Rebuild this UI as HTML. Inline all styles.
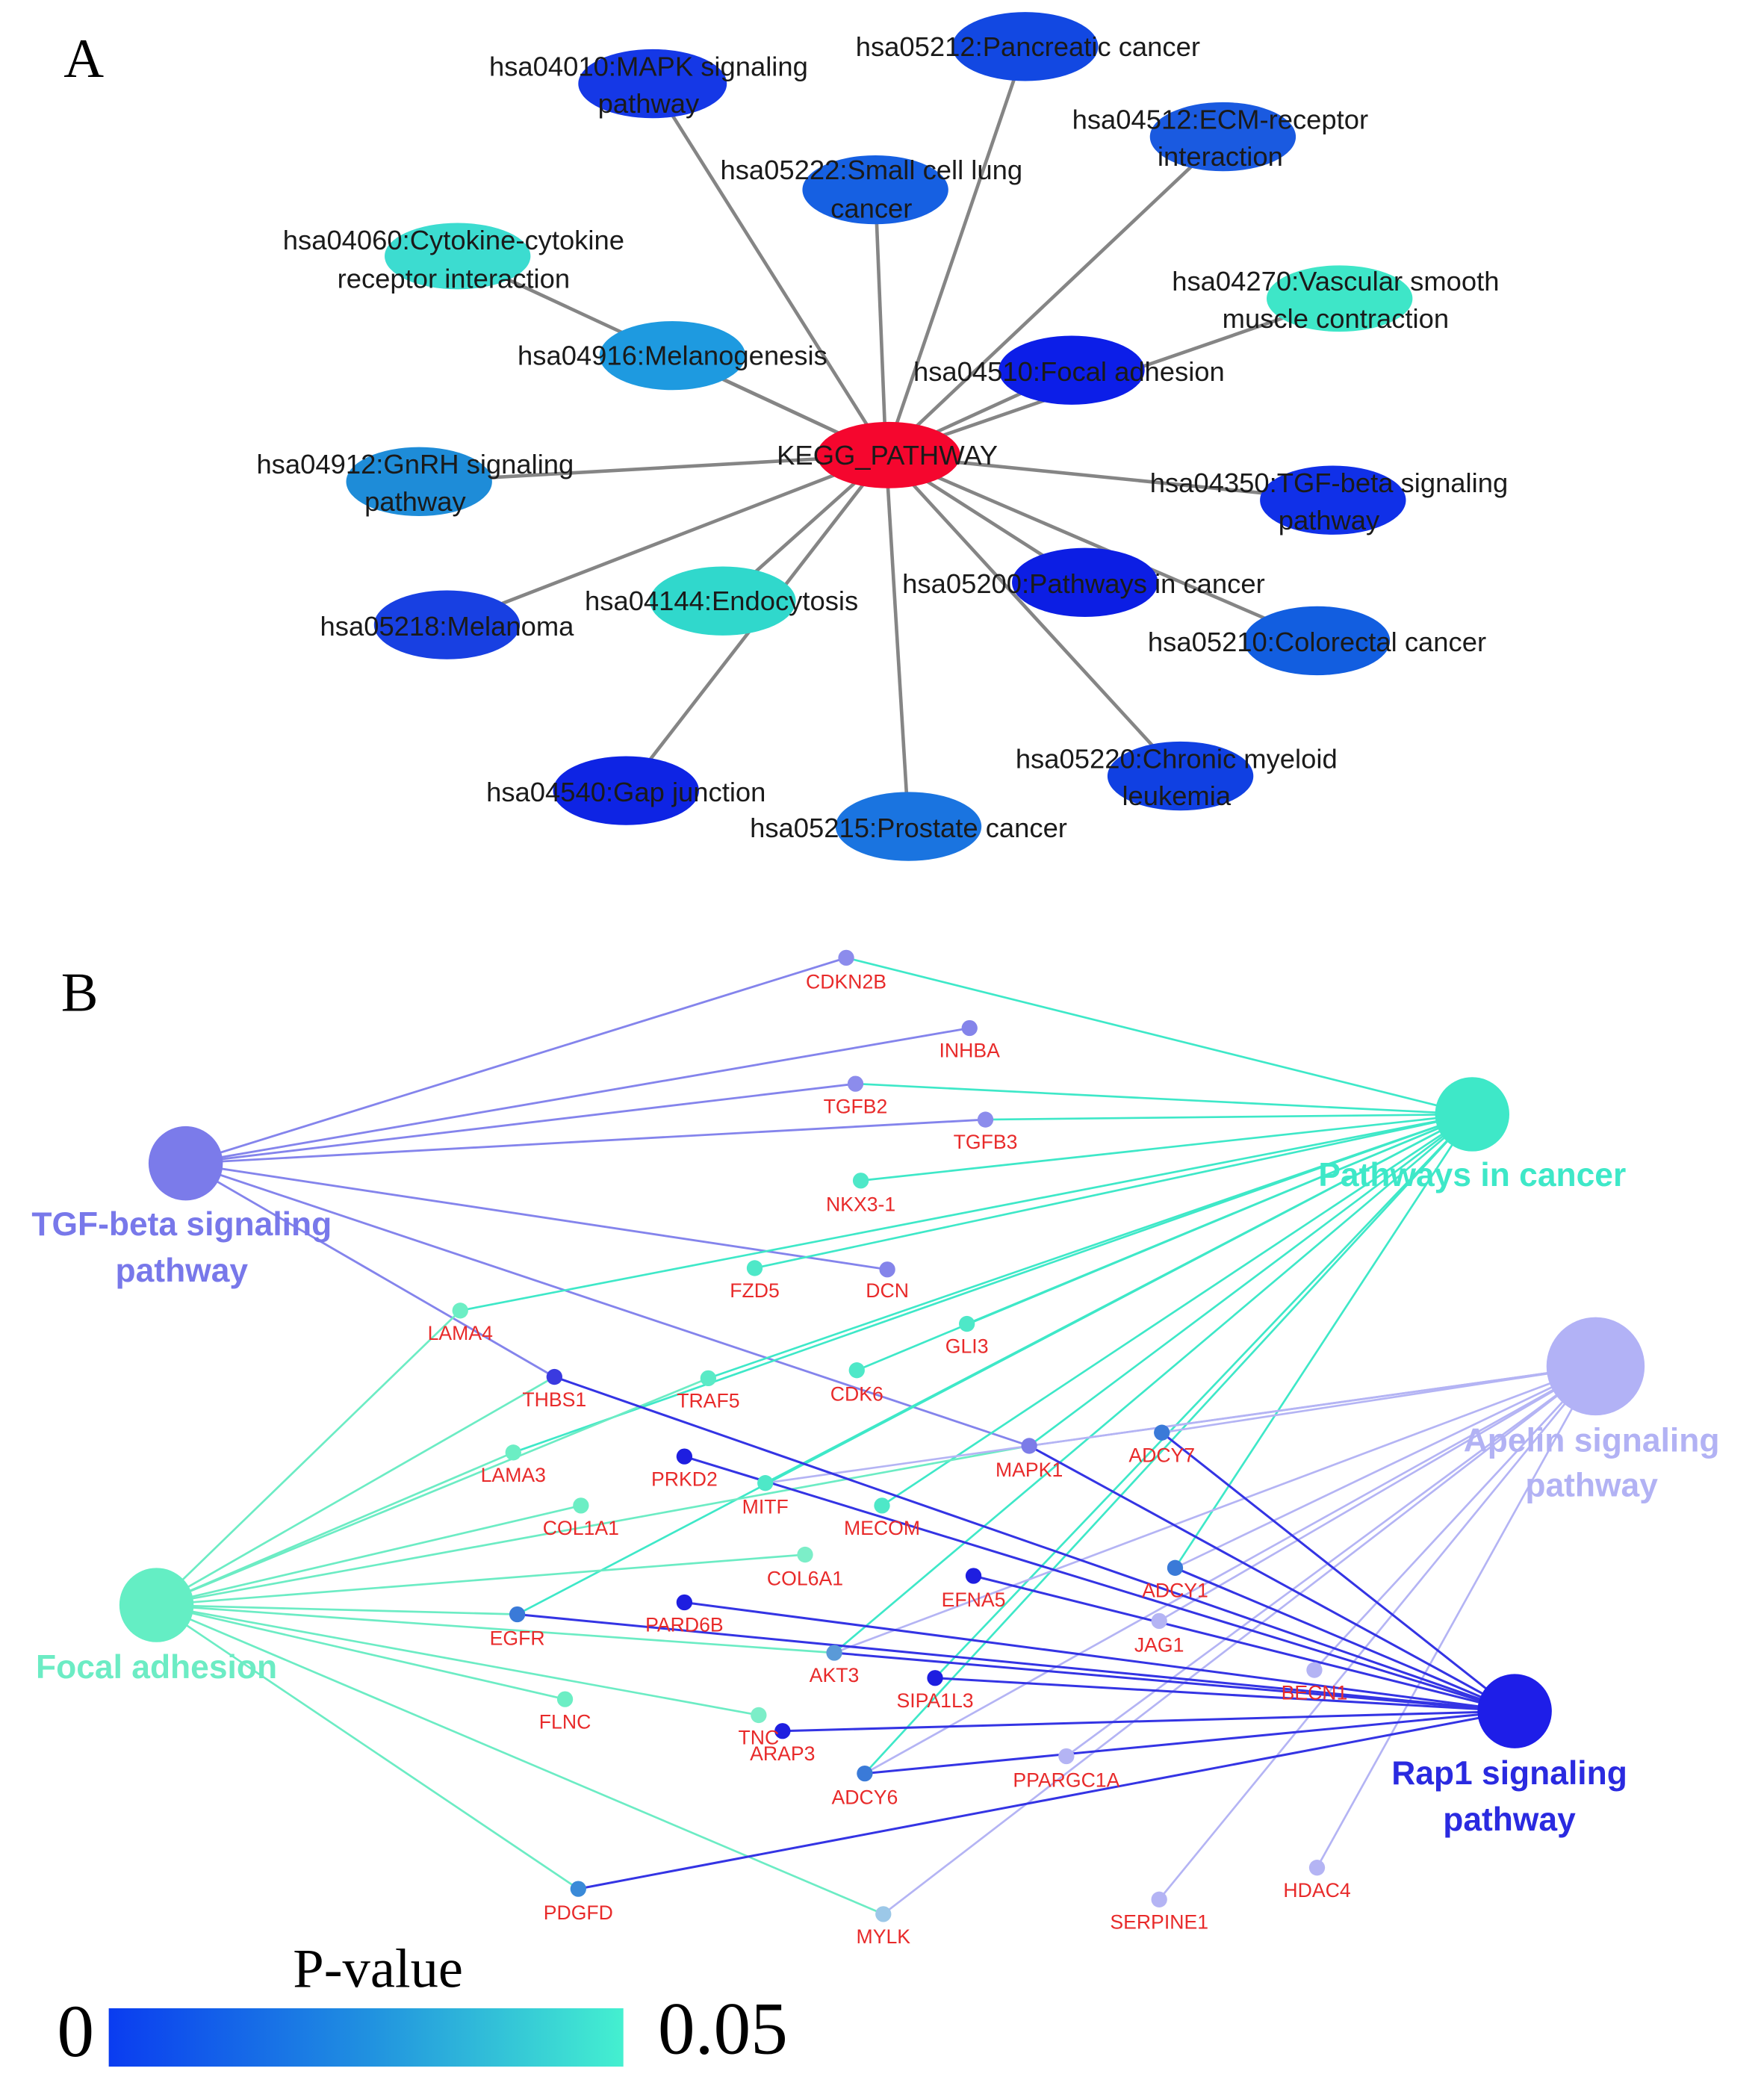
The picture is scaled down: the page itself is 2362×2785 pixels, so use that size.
<!DOCTYPE html>
<html><head><meta charset="utf-8">
<style>
html,body{margin:0;padding:0;background:#fff;}
svg{display:block;}
.a{font-family:"Liberation Sans",sans-serif;font-size:20.5px;fill:#1a1a1a;text-anchor:middle;dominant-baseline:central;}
.g{font-family:"Liberation Sans",sans-serif;font-size:15px;fill:#e82a2a;text-anchor:middle;dominant-baseline:central;}
.h{font-family:"Liberation Sans",sans-serif;font-size:25px;font-weight:bold;text-anchor:middle;dominant-baseline:central;}
.s{font-family:"Liberation Serif",serif;fill:#000;}
</style></head><body>
<svg width="2362" height="2785" viewBox="0 0 1330 1568" xmlns="http://www.w3.org/2000/svg">
<rect width="1330" height="1568" fill="#fff"/>
<text class="s" x="48" y="58" font-size="42">A</text>
<text class="s" x="46" y="762" font-size="42">B</text>
<g stroke="#858585" stroke-width="2.6">
<line x1="668" y1="343" x2="492" y2="63"/>
<line x1="668" y1="343" x2="773" y2="35"/>
<line x1="668" y1="343" x2="922" y2="103"/>
<line x1="668" y1="343" x2="660" y2="143"/>
<line x1="668" y1="343" x2="345" y2="193"/>
<line x1="668" y1="343" x2="1010" y2="225"/>
<line x1="668" y1="343" x2="507" y2="268"/>
<line x1="668" y1="343" x2="808" y2="279"/>
<line x1="668" y1="343" x2="316" y2="363"/>
<line x1="668" y1="343" x2="1005" y2="377"/>
<line x1="668" y1="343" x2="818" y2="439"/>
<line x1="668" y1="343" x2="545" y2="453"/>
<line x1="668" y1="343" x2="337" y2="471"/>
<line x1="668" y1="343" x2="993" y2="483"/>
<line x1="668" y1="343" x2="472" y2="596"/>
<line x1="668" y1="343" x2="890" y2="585"/>
<line x1="668" y1="343" x2="685" y2="623"/>
</g>
<g>
<ellipse cx="492" cy="63" rx="56" ry="26" fill="#1538e6"/>
<ellipse cx="773" cy="35" rx="55" ry="26" fill="#1248e2"/>
<ellipse cx="922" cy="103" rx="55" ry="26" fill="#1a5ae0"/>
<ellipse cx="660" cy="143" rx="55" ry="26" fill="#1660e2"/>
<ellipse cx="345" cy="193" rx="55" ry="25" fill="#3cdcd0"/>
<ellipse cx="1010" cy="225" rx="55" ry="25" fill="#3ee6c8"/>
<ellipse cx="507" cy="268" rx="55" ry="26" fill="#1e9ae0"/>
<ellipse cx="808" cy="279" rx="55" ry="26" fill="#0c1ee8"/>
<ellipse cx="316" cy="363" rx="55" ry="26" fill="#1e8cd8"/>
<ellipse cx="1005" cy="377" rx="55" ry="26" fill="#1030e8"/>
<ellipse cx="818" cy="439" rx="55" ry="26" fill="#0c1ee4"/>
<ellipse cx="545" cy="453" rx="55" ry="26" fill="#30d8cc"/>
<ellipse cx="337" cy="471" rx="55" ry="26" fill="#1840e2"/>
<ellipse cx="993" cy="483" rx="55" ry="26" fill="#125ee0"/>
<ellipse cx="472" cy="596" rx="55" ry="26" fill="#0e24e4"/>
<ellipse cx="890" cy="585" rx="55" ry="26" fill="#1040e2"/>
<ellipse cx="685" cy="623" rx="55" ry="26" fill="#1a74e0"/>
<ellipse cx="670" cy="343" rx="54" ry="25" fill="#f5062e"/>
</g>
<g class="a">
<text x="489" y="50">hsa04010:MAPK signaling</text><text x="489" y="78">pathway</text>
<text x="775" y="35">hsa05212:Pancreatic cancer</text>
<text x="920" y="90">hsa04512:ECM-receptor</text><text x="920" y="118">interaction</text>
<text x="657" y="128">hsa05222:Small cell lung</text><text x="657" y="157">cancer</text>
<text x="342" y="181">hsa04060:Cytokine-cytokine</text><text x="342" y="210">receptor interaction</text>
<text x="1007" y="212">hsa04270:Vascular smooth</text><text x="1007" y="240">muscle contraction</text>
<text x="507" y="268">hsa04916:Melanogenesis</text>
<text x="806" y="280">hsa04510:Focal adhesion</text>
<text x="313" y="350">hsa04912:GnRH signaling</text><text x="313" y="378">pathway</text>
<text x="669" y="343">KEGG_PATHWAY</text>
<text x="1002" y="364">hsa04350:TGF-beta signaling</text><text x="1002" y="392">pathway</text>
<text x="817" y="440">hsa05200:Pathways in cancer</text>
<text x="544" y="453">hsa04144:Endocytosis</text>
<text x="337" y="472">hsa05218:Melanoma</text>
<text x="993" y="484">hsa05210:Colorectal cancer</text>
<text x="887" y="572">hsa05220:Chronic myeloid</text><text x="887" y="600">leukemia</text>
<text x="472" y="597">hsa04540:Gap junction</text>
<text x="685" y="624">hsa05215:Prostate cancer</text>
</g>
<g stroke="#8484ec" stroke-width="1.6">
<line x1="140" y1="877" x2="638" y2="722"/>
<line x1="140" y1="877" x2="731" y2="775"/>
<line x1="140" y1="877" x2="645" y2="817"/>
<line x1="140" y1="877" x2="743" y2="844"/>
<line x1="140" y1="877" x2="669" y2="957"/>
<line x1="140" y1="877" x2="418" y2="1038"/>
<line x1="140" y1="877" x2="776" y2="1090"/>
</g>
<g stroke="#3ee8c8" stroke-width="1.5">
<line x1="1110" y1="840" x2="638" y2="722"/>
<line x1="1110" y1="840" x2="645" y2="817"/>
<line x1="1110" y1="840" x2="743" y2="844"/>
<line x1="1110" y1="840" x2="649" y2="890"/>
<line x1="1110" y1="840" x2="569" y2="956"/>
<line x1="1110" y1="840" x2="347" y2="988"/>
<line x1="1110" y1="840" x2="729" y2="998"/>
<line x1="1110" y1="840" x2="534" y2="1039"/>
<line x1="1110" y1="840" x2="646" y2="1033"/>
<line x1="1110" y1="840" x2="387" y2="1095"/>
<line x1="1110" y1="840" x2="577" y2="1118"/>
<line x1="1110" y1="840" x2="665" y2="1135"/>
<line x1="1110" y1="840" x2="390" y2="1217"/>
<line x1="1110" y1="840" x2="629" y2="1246"/>
<line x1="1110" y1="840" x2="705" y2="1265"/>
<line x1="1110" y1="840" x2="652" y2="1337"/>
<line x1="1110" y1="840" x2="886" y2="1182"/>
<line x1="1110" y1="840" x2="776" y2="1090"/>
</g>
<g stroke="#6cecc4" stroke-width="1.5">
<line x1="118" y1="1210" x2="347" y2="988"/>
<line x1="118" y1="1210" x2="418" y2="1038"/>
<line x1="118" y1="1210" x2="534" y2="1039"/>
<line x1="118" y1="1210" x2="387" y2="1095"/>
<line x1="118" y1="1210" x2="438" y2="1135"/>
<line x1="118" y1="1210" x2="776" y2="1090"/>
<line x1="118" y1="1210" x2="607" y2="1172"/>
<line x1="118" y1="1210" x2="390" y2="1217"/>
<line x1="118" y1="1210" x2="629" y2="1246"/>
<line x1="118" y1="1210" x2="426" y2="1281"/>
<line x1="118" y1="1210" x2="572" y2="1293"/>
<line x1="118" y1="1210" x2="436" y2="1424"/>
<line x1="118" y1="1210" x2="666" y2="1443"/>
</g>
<g stroke="#b4b4f4" stroke-width="1.5">
<line x1="1203" y1="1030" x2="776" y2="1090"/>
<line x1="1203" y1="1030" x2="876" y2="1080"/>
<line x1="1203" y1="1030" x2="886" y2="1182"/>
<line x1="1203" y1="1030" x2="874" y2="1222"/>
<line x1="1203" y1="1030" x2="991" y2="1259"/>
<line x1="1203" y1="1030" x2="804" y2="1324"/>
<line x1="1203" y1="1030" x2="874" y2="1432"/>
<line x1="1203" y1="1030" x2="993" y2="1408"/>
<line x1="1203" y1="1030" x2="666" y2="1443"/>
<line x1="1203" y1="1030" x2="652" y2="1337"/>
<line x1="1203" y1="1030" x2="629" y2="1246"/>
<line x1="1203" y1="1030" x2="577" y2="1118"/>
</g>
<g stroke="#3434e4" stroke-width="1.7">
<line x1="1142" y1="1290" x2="418" y2="1038"/>
<line x1="1142" y1="1290" x2="516" y2="1098"/>
<line x1="1142" y1="1290" x2="776" y2="1090"/>
<line x1="1142" y1="1290" x2="876" y2="1080"/>
<line x1="1142" y1="1290" x2="886" y2="1182"/>
<line x1="1142" y1="1290" x2="734" y2="1188"/>
<line x1="1142" y1="1290" x2="390" y2="1217"/>
<line x1="1142" y1="1290" x2="516" y2="1208"/>
<line x1="1142" y1="1290" x2="629" y2="1246"/>
<line x1="1142" y1="1290" x2="705" y2="1265"/>
<line x1="1142" y1="1290" x2="590" y2="1305"/>
<line x1="1142" y1="1290" x2="652" y2="1337"/>
<line x1="1142" y1="1290" x2="436" y2="1424"/>
</g>
<circle cx="140" cy="877" r="28" fill="#7b7bea"/>
<circle cx="1110" cy="840" r="28" fill="#3ee8c8"/>
<circle cx="1203" cy="1030" r="37" fill="#b2b2f6"/>
<circle cx="118" cy="1210" r="28" fill="#64eec4"/>
<circle cx="1142" cy="1290" r="28" fill="#1e1ee8"/>
<g class="h">
<text x="137" y="923" fill="#7878ea">TGF-beta signaling</text><text x="137" y="958" fill="#7878ea">pathway</text>
<text x="1110" y="886" fill="#3ee8c8">Pathways in cancer</text>
<text x="1200" y="1086" fill="#b2b2f4">Apelin signaling</text><text x="1200" y="1120" fill="#b2b2f4">pathway</text>
<text x="118" y="1257" fill="#6cecc4">Focal adhesion</text>
<text x="1138" y="1337" fill="#2a2ae0">Rap1 signaling</text><text x="1138" y="1372" fill="#2a2ae0">pathway</text>
</g>
<g>
<circle cx="638" cy="722" r="6" fill="#8c8cec"/>
<circle cx="731" cy="775" r="6" fill="#8484ea"/>
<circle cx="645" cy="817" r="6" fill="#8c8cec"/>
<circle cx="743" cy="844" r="6" fill="#8c8cec"/>
<circle cx="649" cy="890" r="6" fill="#4ee8c8"/>
<circle cx="569" cy="956" r="6" fill="#4ee8c8"/>
<circle cx="669" cy="957" r="6" fill="#8484ea"/>
<circle cx="347" cy="988" r="6" fill="#6ceec4"/>
<circle cx="729" cy="998" r="6" fill="#4ee8c8"/>
<circle cx="418" cy="1038" r="6" fill="#3a3ae0"/>
<circle cx="534" cy="1039" r="6" fill="#5aeac6"/>
<circle cx="646" cy="1033" r="6" fill="#4ee8c8"/>
<circle cx="387" cy="1095" r="6" fill="#6ceec4"/>
<circle cx="516" cy="1098" r="6" fill="#1e1ee0"/>
<circle cx="577" cy="1118" r="6" fill="#4ee8c8"/>
<circle cx="776" cy="1090" r="6" fill="#7c7ce8"/>
<circle cx="876" cy="1080" r="6" fill="#3a7ad8"/>
<circle cx="438" cy="1135" r="6" fill="#6ceec4"/>
<circle cx="665" cy="1135" r="6" fill="#4ee8c8"/>
<circle cx="607" cy="1172" r="6" fill="#7ceec8"/>
<circle cx="734" cy="1188" r="6" fill="#1e1ee0"/>
<circle cx="886" cy="1182" r="6" fill="#3a7ad8"/>
<circle cx="390" cy="1217" r="6" fill="#3a7ad8"/>
<circle cx="516" cy="1208" r="6" fill="#1e1ee0"/>
<circle cx="874" cy="1222" r="6" fill="#b4b4f4"/>
<circle cx="629" cy="1246" r="6" fill="#5a9ad8"/>
<circle cx="705" cy="1265" r="6" fill="#1e1ee0"/>
<circle cx="991" cy="1259" r="6" fill="#b4b4f4"/>
<circle cx="426" cy="1281" r="6" fill="#6ceec4"/>
<circle cx="572" cy="1293" r="6" fill="#7ceec8"/>
<circle cx="590" cy="1305" r="6" fill="#1e1ee0"/>
<circle cx="652" cy="1337" r="6" fill="#3a7ad8"/>
<circle cx="804" cy="1324" r="6" fill="#b4b4f4"/>
<circle cx="436" cy="1424" r="6" fill="#3a8ad8"/>
<circle cx="666" cy="1443" r="6" fill="#9cc8e8"/>
<circle cx="874" cy="1432" r="6" fill="#b4b4f4"/>
<circle cx="993" cy="1408" r="6" fill="#b4b4f4"/>
</g>
<g class="g">
<text x="638" y="740">CDKN2B</text>
<text x="731" y="792">INHBA</text>
<text x="645" y="834">TGFB2</text>
<text x="743" y="861">TGFB3</text>
<text x="649" y="908">NKX3-1</text>
<text x="569" y="973">FZD5</text>
<text x="669" y="973">DCN</text>
<text x="347" y="1005">LAMA4</text>
<text x="729" y="1015">GLI3</text>
<text x="418" y="1055">THBS1</text>
<text x="534" y="1056">TRAF5</text>
<text x="646" y="1051">CDK6</text>
<text x="387" y="1112">LAMA3</text>
<text x="516" y="1115">PRKD2</text>
<text x="577" y="1136">MITF</text>
<text x="776" y="1108">MAPK1</text>
<text x="876" y="1097">ADCY7</text>
<text x="438" y="1152">COL1A1</text>
<text x="665" y="1152">MECOM</text>
<text x="607" y="1190">COL6A1</text>
<text x="734" y="1206">EFNA5</text>
<text x="886" y="1199">ADCY1</text>
<text x="390" y="1235">EGFR</text>
<text x="516" y="1225">PARD6B</text>
<text x="874" y="1240">JAG1</text>
<text x="629" y="1263">AKT3</text>
<text x="705" y="1282">SIPA1L3</text>
<text x="991" y="1276">BECN1</text>
<text x="426" y="1298">FLNC</text>
<text x="572" y="1310">TNC</text>
<text x="590" y="1322">ARAP3</text>
<text x="652" y="1355">ADCY6</text>
<text x="804" y="1342">PPARGC1A</text>
<text x="436" y="1442">PDGFD</text>
<text x="666" y="1460">MYLK</text>
<text x="874" y="1449">SERPINE1</text>
<text x="993" y="1425">HDAC4</text>
</g>
<defs><linearGradient id="pg" x1="0" x2="1" y1="0" y2="0">
<stop offset="0" stop-color="#0a3cf0"/><stop offset="0.5" stop-color="#2090e0"/><stop offset="1" stop-color="#44f0d0"/>
</linearGradient></defs>
<rect x="82" y="1514" width="388" height="44" fill="url(#pg)"/>
<text class="s" x="285" y="1498" font-size="42" text-anchor="middle">P-value</text>
<text class="s" x="57" y="1550" font-size="56" text-anchor="middle">0</text>
<text class="s" x="545" y="1548" font-size="56" text-anchor="middle">0.05</text>
</svg>
</body></html>
